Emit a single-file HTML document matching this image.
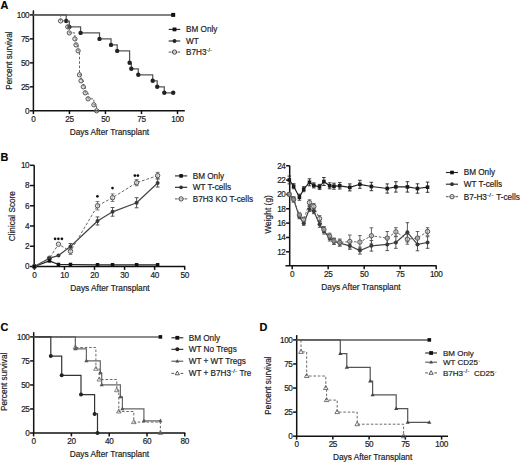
<!DOCTYPE html>
<html><head><meta charset="utf-8"><style>
html,body{margin:0;padding:0;background:#fff;}
body{width:520px;height:463px;overflow:hidden;}
svg{display:block;}
text{font-family:"Liberation Sans", sans-serif;}
</style></head><body>
<svg width="520" height="463" viewBox="0 0 520 463" style='font-family:"Liberation Sans", sans-serif'>
<rect width="520" height="463" fill="#fff"/>
<text x="0.60" y="9.40" font-size="10.9" text-anchor="start" font-weight="bold" fill="#000" stroke="#1a1a1a" stroke-width="0.18">A</text>
<line x1="33.40" y1="10.40" x2="33.40" y2="110.80" stroke="#111" stroke-width="1.5" stroke-linecap="butt"/>
<line x1="29.80" y1="14.90" x2="33.40" y2="14.90" stroke="#111" stroke-width="1.5" stroke-linecap="butt"/>
<text x="29.10" y="17.80" font-size="8.2" text-anchor="end" font-weight="normal" fill="#1a1a1a" letter-spacing="-0.45" stroke="#1a1a1a" stroke-width="0.18">100</text>
<line x1="29.80" y1="38.88" x2="33.40" y2="38.88" stroke="#111" stroke-width="1.5" stroke-linecap="butt"/>
<text x="29.10" y="41.77" font-size="8.2" text-anchor="end" font-weight="normal" fill="#1a1a1a" letter-spacing="-0.45" stroke="#1a1a1a" stroke-width="0.18">75</text>
<line x1="29.80" y1="62.85" x2="33.40" y2="62.85" stroke="#111" stroke-width="1.5" stroke-linecap="butt"/>
<text x="29.10" y="65.75" font-size="8.2" text-anchor="end" font-weight="normal" fill="#1a1a1a" letter-spacing="-0.45" stroke="#1a1a1a" stroke-width="0.18">50</text>
<line x1="29.80" y1="86.83" x2="33.40" y2="86.83" stroke="#111" stroke-width="1.5" stroke-linecap="butt"/>
<text x="29.10" y="89.73" font-size="8.2" text-anchor="end" font-weight="normal" fill="#1a1a1a" letter-spacing="-0.45" stroke="#1a1a1a" stroke-width="0.18">25</text>
<line x1="29.80" y1="110.80" x2="33.40" y2="110.80" stroke="#111" stroke-width="1.5" stroke-linecap="butt"/>
<text x="29.10" y="113.70" font-size="8.2" text-anchor="end" font-weight="normal" fill="#1a1a1a" letter-spacing="-0.45" stroke="#1a1a1a" stroke-width="0.18">0</text>
<line x1="33.40" y1="110.70" x2="184.80" y2="110.70" stroke="#111" stroke-width="1.5" stroke-linecap="butt"/>
<line x1="33.40" y1="110.70" x2="33.40" y2="114.10" stroke="#111" stroke-width="1.5" stroke-linecap="butt"/>
<text x="33.40" y="121.70" font-size="8.2" text-anchor="middle" font-weight="normal" fill="#1a1a1a" letter-spacing="-0.35" stroke="#1a1a1a" stroke-width="0.18">0</text>
<line x1="69.42" y1="110.70" x2="69.42" y2="114.10" stroke="#111" stroke-width="1.5" stroke-linecap="butt"/>
<text x="69.42" y="121.70" font-size="8.2" text-anchor="middle" font-weight="normal" fill="#1a1a1a" letter-spacing="-0.35" stroke="#1a1a1a" stroke-width="0.18">25</text>
<line x1="105.45" y1="110.70" x2="105.45" y2="114.10" stroke="#111" stroke-width="1.5" stroke-linecap="butt"/>
<text x="105.45" y="121.70" font-size="8.2" text-anchor="middle" font-weight="normal" fill="#1a1a1a" letter-spacing="-0.35" stroke="#1a1a1a" stroke-width="0.18">50</text>
<line x1="141.47" y1="110.70" x2="141.47" y2="114.10" stroke="#111" stroke-width="1.5" stroke-linecap="butt"/>
<text x="141.47" y="121.70" font-size="8.2" text-anchor="middle" font-weight="normal" fill="#1a1a1a" letter-spacing="-0.35" stroke="#1a1a1a" stroke-width="0.18">75</text>
<line x1="177.50" y1="110.70" x2="177.50" y2="114.10" stroke="#111" stroke-width="1.5" stroke-linecap="butt"/>
<text x="177.50" y="121.70" font-size="8.2" text-anchor="middle" font-weight="normal" fill="#1a1a1a" letter-spacing="-0.35" stroke="#1a1a1a" stroke-width="0.18">100</text>
<text x="11.90" y="60.60" font-size="8.2" text-anchor="middle" font-weight="normal" fill="#1a1a1a" transform="rotate(-90 11.90 60.60)" stroke="#1a1a1a" stroke-width="0.18">Percent survival</text>
<text x="109.40" y="134.80" font-size="8.3" text-anchor="middle" font-weight="normal" fill="#1a1a1a" stroke="#1a1a1a" stroke-width="0.18">Days After Transplant</text>
<line x1="33.40" y1="15.00" x2="173.20" y2="15.00" stroke="#5a5a5a" stroke-width="1.4" stroke-linecap="butt"/>
<path d="M33.40,14.90 L66.20,14.90 L66.20,21.00 L69.30,21.00 L69.30,26.90 L80.60,26.90 L80.60,32.90 L99.50,32.90 L99.50,38.90 L111.00,38.90 L111.00,44.90 L117.20,44.90 L117.20,50.90 L129.60,50.90 L129.60,62.80 L131.30,62.80 L131.30,68.80 L138.30,68.80 L138.30,74.80 L152.70,74.80 L152.70,80.80 L157.20,80.80 L157.20,86.80 L164.30,86.80 L164.30,92.80 L173.20,92.80" fill="none" stroke="#555" stroke-width="1.25"/>
<circle cx="66.20" cy="21.00" r="2.2" fill="#222"/>
<circle cx="69.30" cy="26.90" r="2.2" fill="#222"/>
<circle cx="80.60" cy="32.90" r="2.2" fill="#222"/>
<circle cx="99.50" cy="38.90" r="2.2" fill="#222"/>
<circle cx="111.00" cy="44.90" r="2.2" fill="#222"/>
<circle cx="117.20" cy="50.90" r="2.2" fill="#222"/>
<circle cx="129.60" cy="62.80" r="2.2" fill="#222"/>
<circle cx="131.30" cy="68.80" r="2.2" fill="#222"/>
<circle cx="138.30" cy="74.80" r="2.2" fill="#222"/>
<circle cx="152.70" cy="80.80" r="2.2" fill="#222"/>
<circle cx="157.20" cy="86.80" r="2.2" fill="#222"/>
<circle cx="164.30" cy="92.80" r="2.2" fill="#222"/>
<circle cx="173.20" cy="92.80" r="2.2" fill="#222"/>
<path d="M33.40,14.90 L60.60,14.90 L60.60,20.90 L67.80,20.90 L67.80,26.90 L69.30,26.90 L69.30,32.90 L74.90,32.90 L74.90,38.90 L76.00,38.90 L76.00,44.90 L78.10,44.90 L78.10,50.80 L79.50,50.80 L79.50,74.80 L81.00,74.80 L81.00,80.80 L83.30,80.80 L83.30,86.80 L85.20,86.80 L85.20,92.80 L88.10,92.80 L88.10,98.80 L93.90,98.80 L93.90,104.80 L96.60,104.80 L96.60,110.80" fill="none" stroke="#666" stroke-width="1.0" stroke-dasharray="2.6,1.8"/>
<circle cx="60.60" cy="20.90" r="2.15" fill="rgba(160,160,160,0.3)" stroke="#555" stroke-width="1.0"/>
<circle cx="67.80" cy="26.90" r="2.15" fill="rgba(160,160,160,0.3)" stroke="#555" stroke-width="1.0"/>
<circle cx="69.30" cy="32.90" r="2.15" fill="rgba(160,160,160,0.3)" stroke="#555" stroke-width="1.0"/>
<circle cx="74.90" cy="38.90" r="2.15" fill="rgba(160,160,160,0.3)" stroke="#555" stroke-width="1.0"/>
<circle cx="76.00" cy="44.90" r="2.15" fill="rgba(160,160,160,0.3)" stroke="#555" stroke-width="1.0"/>
<circle cx="78.10" cy="50.80" r="2.15" fill="rgba(160,160,160,0.3)" stroke="#555" stroke-width="1.0"/>
<circle cx="79.50" cy="74.80" r="2.15" fill="rgba(160,160,160,0.3)" stroke="#555" stroke-width="1.0"/>
<circle cx="81.00" cy="80.80" r="2.15" fill="rgba(160,160,160,0.3)" stroke="#555" stroke-width="1.0"/>
<circle cx="83.30" cy="86.80" r="2.15" fill="rgba(160,160,160,0.3)" stroke="#555" stroke-width="1.0"/>
<circle cx="85.20" cy="92.80" r="2.15" fill="rgba(160,160,160,0.3)" stroke="#555" stroke-width="1.0"/>
<circle cx="88.10" cy="98.80" r="2.15" fill="rgba(160,160,160,0.3)" stroke="#555" stroke-width="1.0"/>
<circle cx="93.90" cy="104.80" r="2.15" fill="rgba(160,160,160,0.3)" stroke="#555" stroke-width="1.0"/>
<circle cx="96.60" cy="110.80" r="2.15" fill="rgba(160,160,160,0.3)" stroke="#555" stroke-width="1.0"/>
<rect x="171.20" y="12.90" width="4" height="4" fill="#111"/>
<line x1="168.70" y1="29.40" x2="180.20" y2="29.40" stroke="#222" stroke-width="1.1" stroke-linecap="butt"/>
<rect x="172.60" y="27.50" width="3.8" height="3.8" fill="#111"/>
<text x="186.00" y="32.40" font-size="8.2" text-anchor="start" font-weight="normal" fill="#1a1a1a" stroke="#1a1a1a" stroke-width="0.18">BM Only</text>
<line x1="168.70" y1="41.00" x2="180.20" y2="41.00" stroke="#222" stroke-width="1.1" stroke-linecap="butt"/>
<circle cx="174.50" cy="41.00" r="2.0" fill="#222"/>
<text x="186.00" y="44.00" font-size="8.2" text-anchor="start" font-weight="normal" fill="#1a1a1a" stroke="#1a1a1a" stroke-width="0.18">WT</text>
<line x1="168.70" y1="52.10" x2="171.40" y2="52.10" stroke="#555" stroke-width="1.0" stroke-linecap="butt"/>
<line x1="177.50" y1="52.10" x2="180.20" y2="52.10" stroke="#555" stroke-width="1.0" stroke-linecap="butt"/>
<line x1="172.00" y1="52.10" x2="177.00" y2="52.10" stroke="#777" stroke-width="0.8" stroke-linecap="butt"/>
<circle cx="174.50" cy="52.10" r="2.15" fill="none" stroke="#444" stroke-width="1.0"/>
<text x="186.00" y="55.10" font-size="8.2" text-anchor="start" font-weight="normal" fill="#1a1a1a" stroke="#1a1a1a" stroke-width="0.18">B7H3<tspan font-size="5.2" dy="-3" letter-spacing="0.35">-/-</tspan></text>
<text x="0.60" y="161.30" font-size="10.9" text-anchor="start" font-weight="bold" fill="#000" stroke="#1a1a1a" stroke-width="0.18">B</text>
<line x1="34.20" y1="165.30" x2="34.20" y2="266.50" stroke="#111" stroke-width="1.5" stroke-linecap="butt"/>
<line x1="29.90" y1="165.30" x2="34.20" y2="165.30" stroke="#111" stroke-width="1.5" stroke-linecap="butt"/>
<text x="29.20" y="168.20" font-size="8.2" text-anchor="end" font-weight="normal" fill="#1a1a1a" letter-spacing="-0.45" stroke="#1a1a1a" stroke-width="0.18">10</text>
<line x1="29.90" y1="185.54" x2="34.20" y2="185.54" stroke="#111" stroke-width="1.5" stroke-linecap="butt"/>
<text x="29.20" y="188.44" font-size="8.2" text-anchor="end" font-weight="normal" fill="#1a1a1a" letter-spacing="-0.45" stroke="#1a1a1a" stroke-width="0.18">8</text>
<line x1="29.90" y1="205.78" x2="34.20" y2="205.78" stroke="#111" stroke-width="1.5" stroke-linecap="butt"/>
<text x="29.20" y="208.68" font-size="8.2" text-anchor="end" font-weight="normal" fill="#1a1a1a" letter-spacing="-0.45" stroke="#1a1a1a" stroke-width="0.18">6</text>
<line x1="29.90" y1="226.02" x2="34.20" y2="226.02" stroke="#111" stroke-width="1.5" stroke-linecap="butt"/>
<text x="29.20" y="228.92" font-size="8.2" text-anchor="end" font-weight="normal" fill="#1a1a1a" letter-spacing="-0.45" stroke="#1a1a1a" stroke-width="0.18">4</text>
<line x1="29.90" y1="246.26" x2="34.20" y2="246.26" stroke="#111" stroke-width="1.5" stroke-linecap="butt"/>
<text x="29.20" y="249.16" font-size="8.2" text-anchor="end" font-weight="normal" fill="#1a1a1a" letter-spacing="-0.45" stroke="#1a1a1a" stroke-width="0.18">2</text>
<line x1="29.90" y1="266.50" x2="34.20" y2="266.50" stroke="#111" stroke-width="1.5" stroke-linecap="butt"/>
<text x="29.20" y="269.40" font-size="8.2" text-anchor="end" font-weight="normal" fill="#1a1a1a" letter-spacing="-0.45" stroke="#1a1a1a" stroke-width="0.18">0</text>
<line x1="34.20" y1="266.50" x2="185.20" y2="266.50" stroke="#111" stroke-width="1.5" stroke-linecap="butt"/>
<line x1="34.40" y1="266.50" x2="34.40" y2="269.90" stroke="#111" stroke-width="1.5" stroke-linecap="butt"/>
<text x="34.40" y="277.50" font-size="8.2" text-anchor="middle" font-weight="normal" fill="#1a1a1a" letter-spacing="-0.35" stroke="#1a1a1a" stroke-width="0.18">0</text>
<line x1="64.46" y1="266.50" x2="64.46" y2="269.90" stroke="#111" stroke-width="1.5" stroke-linecap="butt"/>
<text x="64.46" y="277.50" font-size="8.2" text-anchor="middle" font-weight="normal" fill="#1a1a1a" letter-spacing="-0.35" stroke="#1a1a1a" stroke-width="0.18">10</text>
<line x1="94.52" y1="266.50" x2="94.52" y2="269.90" stroke="#111" stroke-width="1.5" stroke-linecap="butt"/>
<text x="94.52" y="277.50" font-size="8.2" text-anchor="middle" font-weight="normal" fill="#1a1a1a" letter-spacing="-0.35" stroke="#1a1a1a" stroke-width="0.18">20</text>
<line x1="124.58" y1="266.50" x2="124.58" y2="269.90" stroke="#111" stroke-width="1.5" stroke-linecap="butt"/>
<text x="124.58" y="277.50" font-size="8.2" text-anchor="middle" font-weight="normal" fill="#1a1a1a" letter-spacing="-0.35" stroke="#1a1a1a" stroke-width="0.18">30</text>
<line x1="154.64" y1="266.50" x2="154.64" y2="269.90" stroke="#111" stroke-width="1.5" stroke-linecap="butt"/>
<text x="154.64" y="277.50" font-size="8.2" text-anchor="middle" font-weight="normal" fill="#1a1a1a" letter-spacing="-0.35" stroke="#1a1a1a" stroke-width="0.18">40</text>
<line x1="184.70" y1="266.50" x2="184.70" y2="269.90" stroke="#111" stroke-width="1.5" stroke-linecap="butt"/>
<text x="184.70" y="277.50" font-size="8.2" text-anchor="middle" font-weight="normal" fill="#1a1a1a" letter-spacing="-0.35" stroke="#1a1a1a" stroke-width="0.18">50</text>
<text x="14.60" y="216.20" font-size="8.2" text-anchor="middle" font-weight="normal" fill="#1a1a1a" transform="rotate(-90 14.60 216.20)" stroke="#1a1a1a" stroke-width="0.18">Clinical Score</text>
<text x="110.00" y="290.60" font-size="8.3" text-anchor="middle" font-weight="normal" fill="#1a1a1a" stroke="#1a1a1a" stroke-width="0.18">Days After Transplant</text>
<path d="M34.40,266.50 L49.43,260.93 L58.45,264.48 L70.47,264.48 L97.53,264.78 L112.56,264.78 L136.60,264.78 L157.65,264.78" fill="none" stroke="#222" stroke-width="1.2" stroke-linejoin="round"/>
<path d="M34.40,266.50 L49.43,258.20 L58.45,255.57 L70.47,246.56 L97.53,220.96 L112.56,211.85 L136.60,202.74 L157.65,183.01" fill="none" stroke="#444" stroke-width="1.2" stroke-linejoin="round"/>
<path d="M34.40,266.50 L49.43,258.20 L58.45,244.24 L70.47,251.32 L97.53,205.78 L112.56,197.68 L136.60,182.71 L157.65,175.62" fill="none" stroke="#666" stroke-width="1.0" stroke-linejoin="round" stroke-dasharray="2.8,1.8"/>
<line x1="70.47" y1="243.53" x2="70.47" y2="249.60" stroke="#444" stroke-width="0.9" stroke-linecap="butt"/>
<line x1="68.57" y1="243.53" x2="72.37" y2="243.53" stroke="#444" stroke-width="0.9" stroke-linecap="butt"/>
<line x1="68.57" y1="249.60" x2="72.37" y2="249.60" stroke="#444" stroke-width="0.9" stroke-linecap="butt"/>
<line x1="97.53" y1="216.91" x2="97.53" y2="225.01" stroke="#444" stroke-width="0.9" stroke-linecap="butt"/>
<line x1="95.63" y1="216.91" x2="99.43" y2="216.91" stroke="#444" stroke-width="0.9" stroke-linecap="butt"/>
<line x1="95.63" y1="225.01" x2="99.43" y2="225.01" stroke="#444" stroke-width="0.9" stroke-linecap="butt"/>
<line x1="112.56" y1="207.50" x2="112.56" y2="216.20" stroke="#444" stroke-width="0.9" stroke-linecap="butt"/>
<line x1="110.66" y1="207.50" x2="114.46" y2="207.50" stroke="#444" stroke-width="0.9" stroke-linecap="butt"/>
<line x1="110.66" y1="216.20" x2="114.46" y2="216.20" stroke="#444" stroke-width="0.9" stroke-linecap="butt"/>
<line x1="136.60" y1="197.68" x2="136.60" y2="207.80" stroke="#444" stroke-width="0.9" stroke-linecap="butt"/>
<line x1="134.70" y1="197.68" x2="138.50" y2="197.68" stroke="#444" stroke-width="0.9" stroke-linecap="butt"/>
<line x1="134.70" y1="207.80" x2="138.50" y2="207.80" stroke="#444" stroke-width="0.9" stroke-linecap="butt"/>
<line x1="157.65" y1="178.96" x2="157.65" y2="187.06" stroke="#444" stroke-width="0.9" stroke-linecap="butt"/>
<line x1="155.75" y1="178.96" x2="159.55" y2="178.96" stroke="#444" stroke-width="0.9" stroke-linecap="butt"/>
<line x1="155.75" y1="187.06" x2="159.55" y2="187.06" stroke="#444" stroke-width="0.9" stroke-linecap="butt"/>
<line x1="70.47" y1="248.28" x2="70.47" y2="254.36" stroke="#666" stroke-width="0.9" stroke-linecap="butt"/>
<line x1="68.57" y1="248.28" x2="72.37" y2="248.28" stroke="#666" stroke-width="0.9" stroke-linecap="butt"/>
<line x1="68.57" y1="254.36" x2="72.37" y2="254.36" stroke="#666" stroke-width="0.9" stroke-linecap="butt"/>
<line x1="97.53" y1="201.63" x2="97.53" y2="209.93" stroke="#666" stroke-width="0.9" stroke-linecap="butt"/>
<line x1="95.63" y1="201.63" x2="99.43" y2="201.63" stroke="#666" stroke-width="0.9" stroke-linecap="butt"/>
<line x1="95.63" y1="209.93" x2="99.43" y2="209.93" stroke="#666" stroke-width="0.9" stroke-linecap="butt"/>
<line x1="112.56" y1="193.94" x2="112.56" y2="201.43" stroke="#666" stroke-width="0.9" stroke-linecap="butt"/>
<line x1="110.66" y1="193.94" x2="114.46" y2="193.94" stroke="#666" stroke-width="0.9" stroke-linecap="butt"/>
<line x1="110.66" y1="201.43" x2="114.46" y2="201.43" stroke="#666" stroke-width="0.9" stroke-linecap="butt"/>
<line x1="136.60" y1="179.67" x2="136.60" y2="185.74" stroke="#666" stroke-width="0.9" stroke-linecap="butt"/>
<line x1="134.70" y1="179.67" x2="138.50" y2="179.67" stroke="#666" stroke-width="0.9" stroke-linecap="butt"/>
<line x1="134.70" y1="185.74" x2="138.50" y2="185.74" stroke="#666" stroke-width="0.9" stroke-linecap="butt"/>
<line x1="157.65" y1="172.38" x2="157.65" y2="178.86" stroke="#666" stroke-width="0.9" stroke-linecap="butt"/>
<line x1="155.75" y1="172.38" x2="159.55" y2="172.38" stroke="#666" stroke-width="0.9" stroke-linecap="butt"/>
<line x1="155.75" y1="178.86" x2="159.55" y2="178.86" stroke="#666" stroke-width="0.9" stroke-linecap="butt"/>
<circle cx="34.40" cy="266.50" r="2.2" fill="rgba(220,220,220,0.7)" stroke="#555" stroke-width="1.0"/>
<circle cx="49.43" cy="258.20" r="2.2" fill="rgba(220,220,220,0.7)" stroke="#555" stroke-width="1.0"/>
<circle cx="58.45" cy="244.24" r="2.2" fill="rgba(220,220,220,0.7)" stroke="#555" stroke-width="1.0"/>
<circle cx="70.47" cy="251.32" r="2.2" fill="rgba(220,220,220,0.7)" stroke="#555" stroke-width="1.0"/>
<circle cx="97.53" cy="205.78" r="2.2" fill="rgba(220,220,220,0.7)" stroke="#555" stroke-width="1.0"/>
<circle cx="112.56" cy="197.68" r="2.2" fill="rgba(220,220,220,0.7)" stroke="#555" stroke-width="1.0"/>
<circle cx="136.60" cy="182.71" r="2.2" fill="rgba(220,220,220,0.7)" stroke="#555" stroke-width="1.0"/>
<circle cx="157.65" cy="175.62" r="2.2" fill="rgba(220,220,220,0.7)" stroke="#555" stroke-width="1.0"/>
<circle cx="34.40" cy="266.50" r="2.0" fill="#3a3a3a"/>
<circle cx="49.43" cy="258.20" r="2.0" fill="#3a3a3a"/>
<circle cx="58.45" cy="255.57" r="2.0" fill="#3a3a3a"/>
<circle cx="70.47" cy="246.56" r="2.0" fill="#3a3a3a"/>
<circle cx="97.53" cy="220.96" r="2.0" fill="#3a3a3a"/>
<circle cx="112.56" cy="211.85" r="2.0" fill="#3a3a3a"/>
<circle cx="136.60" cy="202.74" r="2.0" fill="#3a3a3a"/>
<circle cx="157.65" cy="183.01" r="2.0" fill="#3a3a3a"/>
<rect x="32.65" y="264.75" width="3.5" height="3.5" fill="#111"/>
<rect x="47.68" y="259.18" width="3.5" height="3.5" fill="#111"/>
<rect x="56.70" y="262.73" width="3.5" height="3.5" fill="#111"/>
<rect x="68.72" y="262.73" width="3.5" height="3.5" fill="#111"/>
<rect x="95.78" y="263.03" width="3.5" height="3.5" fill="#111"/>
<rect x="110.81" y="263.03" width="3.5" height="3.5" fill="#111"/>
<rect x="134.85" y="263.03" width="3.5" height="3.5" fill="#111"/>
<rect x="155.90" y="263.03" width="3.5" height="3.5" fill="#111"/>
<circle cx="55.10" cy="238.80" r="1.35" fill="#111"/>
<circle cx="58.40" cy="238.80" r="1.35" fill="#111"/>
<circle cx="61.90" cy="238.80" r="1.35" fill="#111"/>
<circle cx="97.40" cy="196.30" r="1.35" fill="#111"/>
<circle cx="112.50" cy="188.10" r="1.35" fill="#111"/>
<circle cx="134.90" cy="175.60" r="1.35" fill="#111"/>
<circle cx="137.90" cy="175.60" r="1.35" fill="#111"/>
<line x1="175.00" y1="175.90" x2="187.20" y2="175.90" stroke="#222" stroke-width="1.1" stroke-linecap="butt"/>
<rect x="179.30" y="174.10" width="3.6" height="3.6" fill="#111"/>
<text x="192.70" y="178.80" font-size="8.2" text-anchor="start" font-weight="normal" fill="#1a1a1a" stroke="#1a1a1a" stroke-width="0.18">BM Only</text>
<line x1="175.00" y1="187.30" x2="187.20" y2="187.30" stroke="#222" stroke-width="1.1" stroke-linecap="butt"/>
<circle cx="181.10" cy="187.30" r="1.9" fill="#333"/>
<text x="192.70" y="190.20" font-size="8.2" text-anchor="start" font-weight="normal" fill="#1a1a1a" stroke="#1a1a1a" stroke-width="0.18">WT T-cells</text>
<line x1="175.00" y1="198.90" x2="177.70" y2="198.90" stroke="#555" stroke-width="1.0" stroke-linecap="butt"/>
<line x1="184.50" y1="198.90" x2="187.20" y2="198.90" stroke="#555" stroke-width="1.0" stroke-linecap="butt"/>
<line x1="178.60" y1="198.90" x2="183.60" y2="198.90" stroke="#777" stroke-width="0.8" stroke-linecap="butt"/>
<circle cx="181.10" cy="198.90" r="2.15" fill="none" stroke="#444" stroke-width="1.0"/>
<text x="192.70" y="201.80" font-size="8.2" text-anchor="start" font-weight="normal" fill="#1a1a1a" stroke="#1a1a1a" stroke-width="0.18">B7H3 KO T-cells</text>
<line x1="289.70" y1="165.60" x2="289.70" y2="265.80" stroke="#111" stroke-width="1.5" stroke-linecap="butt"/>
<line x1="286.10" y1="165.76" x2="289.70" y2="165.76" stroke="#111" stroke-width="1.5" stroke-linecap="butt"/>
<text x="285.40" y="168.66" font-size="8.2" text-anchor="end" font-weight="normal" fill="#1a1a1a" letter-spacing="-0.45" stroke="#1a1a1a" stroke-width="0.18">24</text>
<line x1="286.10" y1="180.10" x2="289.70" y2="180.10" stroke="#111" stroke-width="1.5" stroke-linecap="butt"/>
<text x="285.40" y="183.00" font-size="8.2" text-anchor="end" font-weight="normal" fill="#1a1a1a" letter-spacing="-0.45" stroke="#1a1a1a" stroke-width="0.18">22</text>
<line x1="286.10" y1="194.44" x2="289.70" y2="194.44" stroke="#111" stroke-width="1.5" stroke-linecap="butt"/>
<text x="285.40" y="197.34" font-size="8.2" text-anchor="end" font-weight="normal" fill="#1a1a1a" letter-spacing="-0.45" stroke="#1a1a1a" stroke-width="0.18">20</text>
<line x1="286.10" y1="208.78" x2="289.70" y2="208.78" stroke="#111" stroke-width="1.5" stroke-linecap="butt"/>
<text x="285.40" y="211.68" font-size="8.2" text-anchor="end" font-weight="normal" fill="#1a1a1a" letter-spacing="-0.45" stroke="#1a1a1a" stroke-width="0.18">18</text>
<line x1="286.10" y1="223.12" x2="289.70" y2="223.12" stroke="#111" stroke-width="1.5" stroke-linecap="butt"/>
<text x="285.40" y="226.02" font-size="8.2" text-anchor="end" font-weight="normal" fill="#1a1a1a" letter-spacing="-0.45" stroke="#1a1a1a" stroke-width="0.18">16</text>
<line x1="286.10" y1="237.46" x2="289.70" y2="237.46" stroke="#111" stroke-width="1.5" stroke-linecap="butt"/>
<text x="285.40" y="240.36" font-size="8.2" text-anchor="end" font-weight="normal" fill="#1a1a1a" letter-spacing="-0.45" stroke="#1a1a1a" stroke-width="0.18">14</text>
<line x1="286.10" y1="251.80" x2="289.70" y2="251.80" stroke="#111" stroke-width="1.5" stroke-linecap="butt"/>
<text x="285.40" y="254.70" font-size="8.2" text-anchor="end" font-weight="normal" fill="#1a1a1a" letter-spacing="-0.45" stroke="#1a1a1a" stroke-width="0.18">12</text>
<line x1="285.50" y1="265.80" x2="436.60" y2="265.80" stroke="#111" stroke-width="1.5" stroke-linecap="butt"/>
<line x1="292.20" y1="265.80" x2="292.20" y2="269.20" stroke="#111" stroke-width="1.5" stroke-linecap="butt"/>
<text x="292.20" y="276.80" font-size="8.2" text-anchor="middle" font-weight="normal" fill="#1a1a1a" letter-spacing="-0.35" stroke="#1a1a1a" stroke-width="0.18">0</text>
<line x1="328.20" y1="265.80" x2="328.20" y2="269.20" stroke="#111" stroke-width="1.5" stroke-linecap="butt"/>
<text x="328.20" y="276.80" font-size="8.2" text-anchor="middle" font-weight="normal" fill="#1a1a1a" letter-spacing="-0.35" stroke="#1a1a1a" stroke-width="0.18">25</text>
<line x1="364.20" y1="265.80" x2="364.20" y2="269.20" stroke="#111" stroke-width="1.5" stroke-linecap="butt"/>
<text x="364.20" y="276.80" font-size="8.2" text-anchor="middle" font-weight="normal" fill="#1a1a1a" letter-spacing="-0.35" stroke="#1a1a1a" stroke-width="0.18">50</text>
<line x1="400.20" y1="265.80" x2="400.20" y2="269.20" stroke="#111" stroke-width="1.5" stroke-linecap="butt"/>
<text x="400.20" y="276.80" font-size="8.2" text-anchor="middle" font-weight="normal" fill="#1a1a1a" letter-spacing="-0.35" stroke="#1a1a1a" stroke-width="0.18">75</text>
<line x1="436.20" y1="265.80" x2="436.20" y2="269.20" stroke="#111" stroke-width="1.5" stroke-linecap="butt"/>
<text x="436.20" y="276.80" font-size="8.2" text-anchor="middle" font-weight="normal" fill="#1a1a1a" letter-spacing="-0.35" stroke="#1a1a1a" stroke-width="0.18">100</text>
<text x="271.30" y="214.40" font-size="8.4" text-anchor="middle" font-weight="normal" fill="#1a1a1a" transform="rotate(-90 271.30 214.40)" stroke="#1a1a1a" stroke-width="0.18">Weight (g)</text>
<text x="361.00" y="290.10" font-size="8.3" text-anchor="middle" font-weight="normal" fill="#1a1a1a" stroke="#1a1a1a" stroke-width="0.18">Days After Transplant</text>
<path d="M289.32,194.30 L293.64,199.60 L299.40,216.70 L303.72,223.30 L309.48,209.00 L313.80,211.20 L319.56,224.30 L323.88,231.00 L329.64,238.00 L333.96,241.50 L339.72,243.10 L349.80,245.80 L359.88,250.60 L371.40,245.80 L387.24,244.40 L395.88,242.50 L407.40,232.30 L417.48,244.40 L427.56,242.50" fill="none" stroke="#444" stroke-width="1.2" stroke-linejoin="round"/>
<path d="M289.32,194.30 L293.64,199.30 L299.40,215.00 L303.72,219.70 L309.48,202.60 L313.80,206.40 L319.56,218.60 L323.88,229.50 L329.64,236.20 L333.96,241.00 L339.72,242.50 L349.80,241.50 L359.88,242.10 L371.40,235.80 L387.24,238.10 L395.88,231.90 L407.40,239.20 L417.48,238.10 L427.56,231.50" fill="none" stroke="#666" stroke-width="1.0" stroke-linejoin="round" stroke-dasharray="2.6,1.8"/>
<path d="M289.32,180.00 L293.64,186.20 L299.40,197.20 L303.72,189.20 L309.48,182.30 L313.80,185.40 L319.56,186.90 L323.88,181.50 L329.64,185.80 L333.96,186.20 L339.72,185.80 L349.80,187.40 L359.88,184.30 L371.40,186.50 L387.24,188.50 L395.88,186.90 L407.40,186.90 L417.48,188.50 L427.56,187.20" fill="none" stroke="#222" stroke-width="1.2" stroke-linejoin="round"/>
<line x1="289.32" y1="176.10" x2="289.32" y2="183.90" stroke="#222" stroke-width="0.9" stroke-linecap="butt"/>
<line x1="287.52" y1="176.10" x2="291.12" y2="176.10" stroke="#222" stroke-width="0.9" stroke-linecap="butt"/>
<line x1="287.52" y1="183.90" x2="291.12" y2="183.90" stroke="#222" stroke-width="0.9" stroke-linecap="butt"/>
<line x1="293.64" y1="183.70" x2="293.64" y2="188.70" stroke="#222" stroke-width="0.9" stroke-linecap="butt"/>
<line x1="291.84" y1="183.70" x2="295.44" y2="183.70" stroke="#222" stroke-width="0.9" stroke-linecap="butt"/>
<line x1="291.84" y1="188.70" x2="295.44" y2="188.70" stroke="#222" stroke-width="0.9" stroke-linecap="butt"/>
<line x1="299.40" y1="194.20" x2="299.40" y2="200.20" stroke="#222" stroke-width="0.9" stroke-linecap="butt"/>
<line x1="297.60" y1="194.20" x2="301.20" y2="194.20" stroke="#222" stroke-width="0.9" stroke-linecap="butt"/>
<line x1="297.60" y1="200.20" x2="301.20" y2="200.20" stroke="#222" stroke-width="0.9" stroke-linecap="butt"/>
<line x1="303.72" y1="186.70" x2="303.72" y2="191.70" stroke="#222" stroke-width="0.9" stroke-linecap="butt"/>
<line x1="301.92" y1="186.70" x2="305.52" y2="186.70" stroke="#222" stroke-width="0.9" stroke-linecap="butt"/>
<line x1="301.92" y1="191.70" x2="305.52" y2="191.70" stroke="#222" stroke-width="0.9" stroke-linecap="butt"/>
<line x1="309.48" y1="178.80" x2="309.48" y2="185.80" stroke="#222" stroke-width="0.9" stroke-linecap="butt"/>
<line x1="307.68" y1="178.80" x2="311.28" y2="178.80" stroke="#222" stroke-width="0.9" stroke-linecap="butt"/>
<line x1="307.68" y1="185.80" x2="311.28" y2="185.80" stroke="#222" stroke-width="0.9" stroke-linecap="butt"/>
<line x1="313.80" y1="182.90" x2="313.80" y2="187.90" stroke="#222" stroke-width="0.9" stroke-linecap="butt"/>
<line x1="312.00" y1="182.90" x2="315.60" y2="182.90" stroke="#222" stroke-width="0.9" stroke-linecap="butt"/>
<line x1="312.00" y1="187.90" x2="315.60" y2="187.90" stroke="#222" stroke-width="0.9" stroke-linecap="butt"/>
<line x1="319.56" y1="184.40" x2="319.56" y2="189.40" stroke="#222" stroke-width="0.9" stroke-linecap="butt"/>
<line x1="317.76" y1="184.40" x2="321.36" y2="184.40" stroke="#222" stroke-width="0.9" stroke-linecap="butt"/>
<line x1="317.76" y1="189.40" x2="321.36" y2="189.40" stroke="#222" stroke-width="0.9" stroke-linecap="butt"/>
<line x1="323.88" y1="177.50" x2="323.88" y2="185.50" stroke="#222" stroke-width="0.9" stroke-linecap="butt"/>
<line x1="322.08" y1="177.50" x2="325.68" y2="177.50" stroke="#222" stroke-width="0.9" stroke-linecap="butt"/>
<line x1="322.08" y1="185.50" x2="325.68" y2="185.50" stroke="#222" stroke-width="0.9" stroke-linecap="butt"/>
<line x1="329.64" y1="182.80" x2="329.64" y2="188.80" stroke="#222" stroke-width="0.9" stroke-linecap="butt"/>
<line x1="327.84" y1="182.80" x2="331.44" y2="182.80" stroke="#222" stroke-width="0.9" stroke-linecap="butt"/>
<line x1="327.84" y1="188.80" x2="331.44" y2="188.80" stroke="#222" stroke-width="0.9" stroke-linecap="butt"/>
<line x1="333.96" y1="183.20" x2="333.96" y2="189.20" stroke="#222" stroke-width="0.9" stroke-linecap="butt"/>
<line x1="332.16" y1="183.20" x2="335.76" y2="183.20" stroke="#222" stroke-width="0.9" stroke-linecap="butt"/>
<line x1="332.16" y1="189.20" x2="335.76" y2="189.20" stroke="#222" stroke-width="0.9" stroke-linecap="butt"/>
<line x1="339.72" y1="182.60" x2="339.72" y2="189.00" stroke="#222" stroke-width="0.9" stroke-linecap="butt"/>
<line x1="337.92" y1="182.60" x2="341.52" y2="182.60" stroke="#222" stroke-width="0.9" stroke-linecap="butt"/>
<line x1="337.92" y1="189.00" x2="341.52" y2="189.00" stroke="#222" stroke-width="0.9" stroke-linecap="butt"/>
<line x1="349.80" y1="183.90" x2="349.80" y2="190.90" stroke="#222" stroke-width="0.9" stroke-linecap="butt"/>
<line x1="348.00" y1="183.90" x2="351.60" y2="183.90" stroke="#222" stroke-width="0.9" stroke-linecap="butt"/>
<line x1="348.00" y1="190.90" x2="351.60" y2="190.90" stroke="#222" stroke-width="0.9" stroke-linecap="butt"/>
<line x1="359.88" y1="180.30" x2="359.88" y2="188.30" stroke="#222" stroke-width="0.9" stroke-linecap="butt"/>
<line x1="358.08" y1="180.30" x2="361.68" y2="180.30" stroke="#222" stroke-width="0.9" stroke-linecap="butt"/>
<line x1="358.08" y1="188.30" x2="361.68" y2="188.30" stroke="#222" stroke-width="0.9" stroke-linecap="butt"/>
<line x1="371.40" y1="182.30" x2="371.40" y2="190.70" stroke="#222" stroke-width="0.9" stroke-linecap="butt"/>
<line x1="369.60" y1="182.30" x2="373.20" y2="182.30" stroke="#222" stroke-width="0.9" stroke-linecap="butt"/>
<line x1="369.60" y1="190.70" x2="373.20" y2="190.70" stroke="#222" stroke-width="0.9" stroke-linecap="butt"/>
<line x1="387.24" y1="183.90" x2="387.24" y2="193.10" stroke="#222" stroke-width="0.9" stroke-linecap="butt"/>
<line x1="385.44" y1="183.90" x2="389.04" y2="183.90" stroke="#222" stroke-width="0.9" stroke-linecap="butt"/>
<line x1="385.44" y1="193.10" x2="389.04" y2="193.10" stroke="#222" stroke-width="0.9" stroke-linecap="butt"/>
<line x1="395.88" y1="181.70" x2="395.88" y2="192.10" stroke="#222" stroke-width="0.9" stroke-linecap="butt"/>
<line x1="394.08" y1="181.70" x2="397.68" y2="181.70" stroke="#222" stroke-width="0.9" stroke-linecap="butt"/>
<line x1="394.08" y1="192.10" x2="397.68" y2="192.10" stroke="#222" stroke-width="0.9" stroke-linecap="butt"/>
<line x1="407.40" y1="181.70" x2="407.40" y2="192.10" stroke="#222" stroke-width="0.9" stroke-linecap="butt"/>
<line x1="405.60" y1="181.70" x2="409.20" y2="181.70" stroke="#222" stroke-width="0.9" stroke-linecap="butt"/>
<line x1="405.60" y1="192.10" x2="409.20" y2="192.10" stroke="#222" stroke-width="0.9" stroke-linecap="butt"/>
<line x1="417.48" y1="183.80" x2="417.48" y2="193.20" stroke="#222" stroke-width="0.9" stroke-linecap="butt"/>
<line x1="415.68" y1="183.80" x2="419.28" y2="183.80" stroke="#222" stroke-width="0.9" stroke-linecap="butt"/>
<line x1="415.68" y1="193.20" x2="419.28" y2="193.20" stroke="#222" stroke-width="0.9" stroke-linecap="butt"/>
<line x1="427.56" y1="182.10" x2="427.56" y2="192.30" stroke="#222" stroke-width="0.9" stroke-linecap="butt"/>
<line x1="425.76" y1="182.10" x2="429.36" y2="182.10" stroke="#222" stroke-width="0.9" stroke-linecap="butt"/>
<line x1="425.76" y1="192.30" x2="429.36" y2="192.30" stroke="#222" stroke-width="0.9" stroke-linecap="butt"/>
<line x1="289.32" y1="192.80" x2="289.32" y2="195.80" stroke="#444" stroke-width="0.9" stroke-linecap="butt"/>
<line x1="287.52" y1="192.80" x2="291.12" y2="192.80" stroke="#444" stroke-width="0.9" stroke-linecap="butt"/>
<line x1="287.52" y1="195.80" x2="291.12" y2="195.80" stroke="#444" stroke-width="0.9" stroke-linecap="butt"/>
<line x1="293.64" y1="197.10" x2="293.64" y2="202.10" stroke="#444" stroke-width="0.9" stroke-linecap="butt"/>
<line x1="291.84" y1="197.10" x2="295.44" y2="197.10" stroke="#444" stroke-width="0.9" stroke-linecap="butt"/>
<line x1="291.84" y1="202.10" x2="295.44" y2="202.10" stroke="#444" stroke-width="0.9" stroke-linecap="butt"/>
<line x1="299.40" y1="214.70" x2="299.40" y2="218.70" stroke="#444" stroke-width="0.9" stroke-linecap="butt"/>
<line x1="297.60" y1="214.70" x2="301.20" y2="214.70" stroke="#444" stroke-width="0.9" stroke-linecap="butt"/>
<line x1="297.60" y1="218.70" x2="301.20" y2="218.70" stroke="#444" stroke-width="0.9" stroke-linecap="butt"/>
<line x1="303.72" y1="221.30" x2="303.72" y2="225.30" stroke="#444" stroke-width="0.9" stroke-linecap="butt"/>
<line x1="301.92" y1="221.30" x2="305.52" y2="221.30" stroke="#444" stroke-width="0.9" stroke-linecap="butt"/>
<line x1="301.92" y1="225.30" x2="305.52" y2="225.30" stroke="#444" stroke-width="0.9" stroke-linecap="butt"/>
<line x1="309.48" y1="206.50" x2="309.48" y2="211.50" stroke="#444" stroke-width="0.9" stroke-linecap="butt"/>
<line x1="307.68" y1="206.50" x2="311.28" y2="206.50" stroke="#444" stroke-width="0.9" stroke-linecap="butt"/>
<line x1="307.68" y1="211.50" x2="311.28" y2="211.50" stroke="#444" stroke-width="0.9" stroke-linecap="butt"/>
<line x1="313.80" y1="208.70" x2="313.80" y2="213.70" stroke="#444" stroke-width="0.9" stroke-linecap="butt"/>
<line x1="312.00" y1="208.70" x2="315.60" y2="208.70" stroke="#444" stroke-width="0.9" stroke-linecap="butt"/>
<line x1="312.00" y1="213.70" x2="315.60" y2="213.70" stroke="#444" stroke-width="0.9" stroke-linecap="butt"/>
<line x1="319.56" y1="221.30" x2="319.56" y2="227.30" stroke="#444" stroke-width="0.9" stroke-linecap="butt"/>
<line x1="317.76" y1="221.30" x2="321.36" y2="221.30" stroke="#444" stroke-width="0.9" stroke-linecap="butt"/>
<line x1="317.76" y1="227.30" x2="321.36" y2="227.30" stroke="#444" stroke-width="0.9" stroke-linecap="butt"/>
<line x1="323.88" y1="228.00" x2="323.88" y2="234.00" stroke="#444" stroke-width="0.9" stroke-linecap="butt"/>
<line x1="322.08" y1="228.00" x2="325.68" y2="228.00" stroke="#444" stroke-width="0.9" stroke-linecap="butt"/>
<line x1="322.08" y1="234.00" x2="325.68" y2="234.00" stroke="#444" stroke-width="0.9" stroke-linecap="butt"/>
<line x1="329.64" y1="235.00" x2="329.64" y2="241.00" stroke="#444" stroke-width="0.9" stroke-linecap="butt"/>
<line x1="327.84" y1="235.00" x2="331.44" y2="235.00" stroke="#444" stroke-width="0.9" stroke-linecap="butt"/>
<line x1="327.84" y1="241.00" x2="331.44" y2="241.00" stroke="#444" stroke-width="0.9" stroke-linecap="butt"/>
<line x1="333.96" y1="238.50" x2="333.96" y2="244.50" stroke="#444" stroke-width="0.9" stroke-linecap="butt"/>
<line x1="332.16" y1="238.50" x2="335.76" y2="238.50" stroke="#444" stroke-width="0.9" stroke-linecap="butt"/>
<line x1="332.16" y1="244.50" x2="335.76" y2="244.50" stroke="#444" stroke-width="0.9" stroke-linecap="butt"/>
<line x1="339.72" y1="240.10" x2="339.72" y2="246.10" stroke="#444" stroke-width="0.9" stroke-linecap="butt"/>
<line x1="337.92" y1="240.10" x2="341.52" y2="240.10" stroke="#444" stroke-width="0.9" stroke-linecap="butt"/>
<line x1="337.92" y1="246.10" x2="341.52" y2="246.10" stroke="#444" stroke-width="0.9" stroke-linecap="butt"/>
<line x1="349.80" y1="242.30" x2="349.80" y2="249.30" stroke="#444" stroke-width="0.9" stroke-linecap="butt"/>
<line x1="348.00" y1="242.30" x2="351.60" y2="242.30" stroke="#444" stroke-width="0.9" stroke-linecap="butt"/>
<line x1="348.00" y1="249.30" x2="351.60" y2="249.30" stroke="#444" stroke-width="0.9" stroke-linecap="butt"/>
<line x1="359.88" y1="247.10" x2="359.88" y2="254.10" stroke="#444" stroke-width="0.9" stroke-linecap="butt"/>
<line x1="358.08" y1="247.10" x2="361.68" y2="247.10" stroke="#444" stroke-width="0.9" stroke-linecap="butt"/>
<line x1="358.08" y1="254.10" x2="361.68" y2="254.10" stroke="#444" stroke-width="0.9" stroke-linecap="butt"/>
<line x1="371.40" y1="240.50" x2="371.40" y2="251.10" stroke="#444" stroke-width="0.9" stroke-linecap="butt"/>
<line x1="369.60" y1="240.50" x2="373.20" y2="240.50" stroke="#444" stroke-width="0.9" stroke-linecap="butt"/>
<line x1="369.60" y1="251.10" x2="373.20" y2="251.10" stroke="#444" stroke-width="0.9" stroke-linecap="butt"/>
<line x1="387.24" y1="238.20" x2="387.24" y2="250.60" stroke="#444" stroke-width="0.9" stroke-linecap="butt"/>
<line x1="385.44" y1="238.20" x2="389.04" y2="238.20" stroke="#444" stroke-width="0.9" stroke-linecap="butt"/>
<line x1="385.44" y1="250.60" x2="389.04" y2="250.60" stroke="#444" stroke-width="0.9" stroke-linecap="butt"/>
<line x1="395.88" y1="236.70" x2="395.88" y2="248.30" stroke="#444" stroke-width="0.9" stroke-linecap="butt"/>
<line x1="394.08" y1="236.70" x2="397.68" y2="236.70" stroke="#444" stroke-width="0.9" stroke-linecap="butt"/>
<line x1="394.08" y1="248.30" x2="397.68" y2="248.30" stroke="#444" stroke-width="0.9" stroke-linecap="butt"/>
<line x1="407.40" y1="222.70" x2="407.40" y2="241.90" stroke="#444" stroke-width="0.9" stroke-linecap="butt"/>
<line x1="405.60" y1="222.70" x2="409.20" y2="222.70" stroke="#444" stroke-width="0.9" stroke-linecap="butt"/>
<line x1="405.60" y1="241.90" x2="409.20" y2="241.90" stroke="#444" stroke-width="0.9" stroke-linecap="butt"/>
<line x1="417.48" y1="238.00" x2="417.48" y2="250.80" stroke="#444" stroke-width="0.9" stroke-linecap="butt"/>
<line x1="415.68" y1="238.00" x2="419.28" y2="238.00" stroke="#444" stroke-width="0.9" stroke-linecap="butt"/>
<line x1="415.68" y1="250.80" x2="419.28" y2="250.80" stroke="#444" stroke-width="0.9" stroke-linecap="butt"/>
<line x1="427.56" y1="236.70" x2="427.56" y2="248.30" stroke="#444" stroke-width="0.9" stroke-linecap="butt"/>
<line x1="425.76" y1="236.70" x2="429.36" y2="236.70" stroke="#444" stroke-width="0.9" stroke-linecap="butt"/>
<line x1="425.76" y1="248.30" x2="429.36" y2="248.30" stroke="#444" stroke-width="0.9" stroke-linecap="butt"/>
<line x1="289.32" y1="192.80" x2="289.32" y2="195.80" stroke="#555" stroke-width="0.9" stroke-linecap="butt"/>
<line x1="287.52" y1="192.80" x2="291.12" y2="192.80" stroke="#555" stroke-width="0.9" stroke-linecap="butt"/>
<line x1="287.52" y1="195.80" x2="291.12" y2="195.80" stroke="#555" stroke-width="0.9" stroke-linecap="butt"/>
<line x1="293.64" y1="196.80" x2="293.64" y2="201.80" stroke="#555" stroke-width="0.9" stroke-linecap="butt"/>
<line x1="291.84" y1="196.80" x2="295.44" y2="196.80" stroke="#555" stroke-width="0.9" stroke-linecap="butt"/>
<line x1="291.84" y1="201.80" x2="295.44" y2="201.80" stroke="#555" stroke-width="0.9" stroke-linecap="butt"/>
<line x1="299.40" y1="213.00" x2="299.40" y2="217.00" stroke="#555" stroke-width="0.9" stroke-linecap="butt"/>
<line x1="297.60" y1="213.00" x2="301.20" y2="213.00" stroke="#555" stroke-width="0.9" stroke-linecap="butt"/>
<line x1="297.60" y1="217.00" x2="301.20" y2="217.00" stroke="#555" stroke-width="0.9" stroke-linecap="butt"/>
<line x1="303.72" y1="217.20" x2="303.72" y2="222.20" stroke="#555" stroke-width="0.9" stroke-linecap="butt"/>
<line x1="301.92" y1="217.20" x2="305.52" y2="217.20" stroke="#555" stroke-width="0.9" stroke-linecap="butt"/>
<line x1="301.92" y1="222.20" x2="305.52" y2="222.20" stroke="#555" stroke-width="0.9" stroke-linecap="butt"/>
<line x1="309.48" y1="199.80" x2="309.48" y2="205.40" stroke="#555" stroke-width="0.9" stroke-linecap="butt"/>
<line x1="307.68" y1="199.80" x2="311.28" y2="199.80" stroke="#555" stroke-width="0.9" stroke-linecap="butt"/>
<line x1="307.68" y1="205.40" x2="311.28" y2="205.40" stroke="#555" stroke-width="0.9" stroke-linecap="butt"/>
<line x1="313.80" y1="203.60" x2="313.80" y2="209.20" stroke="#555" stroke-width="0.9" stroke-linecap="butt"/>
<line x1="312.00" y1="203.60" x2="315.60" y2="203.60" stroke="#555" stroke-width="0.9" stroke-linecap="butt"/>
<line x1="312.00" y1="209.20" x2="315.60" y2="209.20" stroke="#555" stroke-width="0.9" stroke-linecap="butt"/>
<line x1="319.56" y1="215.60" x2="319.56" y2="221.60" stroke="#555" stroke-width="0.9" stroke-linecap="butt"/>
<line x1="317.76" y1="215.60" x2="321.36" y2="215.60" stroke="#555" stroke-width="0.9" stroke-linecap="butt"/>
<line x1="317.76" y1="221.60" x2="321.36" y2="221.60" stroke="#555" stroke-width="0.9" stroke-linecap="butt"/>
<line x1="323.88" y1="226.50" x2="323.88" y2="232.50" stroke="#555" stroke-width="0.9" stroke-linecap="butt"/>
<line x1="322.08" y1="226.50" x2="325.68" y2="226.50" stroke="#555" stroke-width="0.9" stroke-linecap="butt"/>
<line x1="322.08" y1="232.50" x2="325.68" y2="232.50" stroke="#555" stroke-width="0.9" stroke-linecap="butt"/>
<line x1="329.64" y1="233.20" x2="329.64" y2="239.20" stroke="#555" stroke-width="0.9" stroke-linecap="butt"/>
<line x1="327.84" y1="233.20" x2="331.44" y2="233.20" stroke="#555" stroke-width="0.9" stroke-linecap="butt"/>
<line x1="327.84" y1="239.20" x2="331.44" y2="239.20" stroke="#555" stroke-width="0.9" stroke-linecap="butt"/>
<line x1="333.96" y1="238.00" x2="333.96" y2="244.00" stroke="#555" stroke-width="0.9" stroke-linecap="butt"/>
<line x1="332.16" y1="238.00" x2="335.76" y2="238.00" stroke="#555" stroke-width="0.9" stroke-linecap="butt"/>
<line x1="332.16" y1="244.00" x2="335.76" y2="244.00" stroke="#555" stroke-width="0.9" stroke-linecap="butt"/>
<line x1="339.72" y1="239.00" x2="339.72" y2="246.00" stroke="#555" stroke-width="0.9" stroke-linecap="butt"/>
<line x1="337.92" y1="239.00" x2="341.52" y2="239.00" stroke="#555" stroke-width="0.9" stroke-linecap="butt"/>
<line x1="337.92" y1="246.00" x2="341.52" y2="246.00" stroke="#555" stroke-width="0.9" stroke-linecap="butt"/>
<line x1="349.80" y1="235.00" x2="349.80" y2="248.00" stroke="#555" stroke-width="0.9" stroke-linecap="butt"/>
<line x1="348.00" y1="235.00" x2="351.60" y2="235.00" stroke="#555" stroke-width="0.9" stroke-linecap="butt"/>
<line x1="348.00" y1="248.00" x2="351.60" y2="248.00" stroke="#555" stroke-width="0.9" stroke-linecap="butt"/>
<line x1="359.88" y1="235.60" x2="359.88" y2="248.60" stroke="#555" stroke-width="0.9" stroke-linecap="butt"/>
<line x1="358.08" y1="235.60" x2="361.68" y2="235.60" stroke="#555" stroke-width="0.9" stroke-linecap="butt"/>
<line x1="358.08" y1="248.60" x2="361.68" y2="248.60" stroke="#555" stroke-width="0.9" stroke-linecap="butt"/>
<line x1="371.40" y1="227.80" x2="371.40" y2="243.80" stroke="#555" stroke-width="0.9" stroke-linecap="butt"/>
<line x1="369.60" y1="227.80" x2="373.20" y2="227.80" stroke="#555" stroke-width="0.9" stroke-linecap="butt"/>
<line x1="369.60" y1="243.80" x2="373.20" y2="243.80" stroke="#555" stroke-width="0.9" stroke-linecap="butt"/>
<line x1="387.24" y1="231.50" x2="387.24" y2="244.70" stroke="#555" stroke-width="0.9" stroke-linecap="butt"/>
<line x1="385.44" y1="231.50" x2="389.04" y2="231.50" stroke="#555" stroke-width="0.9" stroke-linecap="butt"/>
<line x1="385.44" y1="244.70" x2="389.04" y2="244.70" stroke="#555" stroke-width="0.9" stroke-linecap="butt"/>
<line x1="395.88" y1="227.70" x2="395.88" y2="236.10" stroke="#555" stroke-width="0.9" stroke-linecap="butt"/>
<line x1="394.08" y1="227.70" x2="397.68" y2="227.70" stroke="#555" stroke-width="0.9" stroke-linecap="butt"/>
<line x1="394.08" y1="236.10" x2="397.68" y2="236.10" stroke="#555" stroke-width="0.9" stroke-linecap="butt"/>
<line x1="407.40" y1="234.20" x2="407.40" y2="244.20" stroke="#555" stroke-width="0.9" stroke-linecap="butt"/>
<line x1="405.60" y1="234.20" x2="409.20" y2="234.20" stroke="#555" stroke-width="0.9" stroke-linecap="butt"/>
<line x1="405.60" y1="244.20" x2="409.20" y2="244.20" stroke="#555" stroke-width="0.9" stroke-linecap="butt"/>
<line x1="417.48" y1="231.50" x2="417.48" y2="244.70" stroke="#555" stroke-width="0.9" stroke-linecap="butt"/>
<line x1="415.68" y1="231.50" x2="419.28" y2="231.50" stroke="#555" stroke-width="0.9" stroke-linecap="butt"/>
<line x1="415.68" y1="244.70" x2="419.28" y2="244.70" stroke="#555" stroke-width="0.9" stroke-linecap="butt"/>
<line x1="427.56" y1="227.70" x2="427.56" y2="235.30" stroke="#555" stroke-width="0.9" stroke-linecap="butt"/>
<line x1="425.76" y1="227.70" x2="429.36" y2="227.70" stroke="#555" stroke-width="0.9" stroke-linecap="butt"/>
<line x1="425.76" y1="235.30" x2="429.36" y2="235.30" stroke="#555" stroke-width="0.9" stroke-linecap="butt"/>
<rect x="287.52" y="178.20" width="3.6" height="3.6" fill="#1a1a1a"/>
<rect x="291.84" y="184.40" width="3.6" height="3.6" fill="#1a1a1a"/>
<rect x="297.60" y="195.40" width="3.6" height="3.6" fill="#1a1a1a"/>
<rect x="301.92" y="187.40" width="3.6" height="3.6" fill="#1a1a1a"/>
<rect x="307.68" y="180.50" width="3.6" height="3.6" fill="#1a1a1a"/>
<rect x="312.00" y="183.60" width="3.6" height="3.6" fill="#1a1a1a"/>
<rect x="317.76" y="185.10" width="3.6" height="3.6" fill="#1a1a1a"/>
<rect x="322.08" y="179.70" width="3.6" height="3.6" fill="#1a1a1a"/>
<rect x="327.84" y="184.00" width="3.6" height="3.6" fill="#1a1a1a"/>
<rect x="332.16" y="184.40" width="3.6" height="3.6" fill="#1a1a1a"/>
<rect x="337.92" y="184.00" width="3.6" height="3.6" fill="#1a1a1a"/>
<rect x="348.00" y="185.60" width="3.6" height="3.6" fill="#1a1a1a"/>
<rect x="358.08" y="182.50" width="3.6" height="3.6" fill="#1a1a1a"/>
<rect x="369.60" y="184.70" width="3.6" height="3.6" fill="#1a1a1a"/>
<rect x="385.44" y="186.70" width="3.6" height="3.6" fill="#1a1a1a"/>
<rect x="394.08" y="185.10" width="3.6" height="3.6" fill="#1a1a1a"/>
<rect x="405.60" y="185.10" width="3.6" height="3.6" fill="#1a1a1a"/>
<rect x="415.68" y="186.70" width="3.6" height="3.6" fill="#1a1a1a"/>
<rect x="425.76" y="185.40" width="3.6" height="3.6" fill="#1a1a1a"/>
<circle cx="289.32" cy="194.30" r="2.0" fill="#3a3a3a"/>
<circle cx="293.64" cy="199.60" r="2.0" fill="#3a3a3a"/>
<circle cx="299.40" cy="216.70" r="2.0" fill="#3a3a3a"/>
<circle cx="303.72" cy="223.30" r="2.0" fill="#3a3a3a"/>
<circle cx="309.48" cy="209.00" r="2.0" fill="#3a3a3a"/>
<circle cx="313.80" cy="211.20" r="2.0" fill="#3a3a3a"/>
<circle cx="319.56" cy="224.30" r="2.0" fill="#3a3a3a"/>
<circle cx="323.88" cy="231.00" r="2.0" fill="#3a3a3a"/>
<circle cx="329.64" cy="238.00" r="2.0" fill="#3a3a3a"/>
<circle cx="333.96" cy="241.50" r="2.0" fill="#3a3a3a"/>
<circle cx="339.72" cy="243.10" r="2.0" fill="#3a3a3a"/>
<circle cx="349.80" cy="245.80" r="2.0" fill="#3a3a3a"/>
<circle cx="359.88" cy="250.60" r="2.0" fill="#3a3a3a"/>
<circle cx="371.40" cy="245.80" r="2.0" fill="#3a3a3a"/>
<circle cx="387.24" cy="244.40" r="2.0" fill="#3a3a3a"/>
<circle cx="395.88" cy="242.50" r="2.0" fill="#3a3a3a"/>
<circle cx="407.40" cy="232.30" r="2.0" fill="#3a3a3a"/>
<circle cx="417.48" cy="244.40" r="2.0" fill="#3a3a3a"/>
<circle cx="427.56" cy="242.50" r="2.0" fill="#3a3a3a"/>
<circle cx="289.32" cy="194.30" r="2.2" fill="rgba(200,200,200,0.6)" stroke="#555" stroke-width="1.0"/>
<circle cx="293.64" cy="199.30" r="2.2" fill="rgba(200,200,200,0.6)" stroke="#555" stroke-width="1.0"/>
<circle cx="299.40" cy="215.00" r="2.2" fill="rgba(200,200,200,0.6)" stroke="#555" stroke-width="1.0"/>
<circle cx="303.72" cy="219.70" r="2.2" fill="rgba(200,200,200,0.6)" stroke="#555" stroke-width="1.0"/>
<circle cx="309.48" cy="202.60" r="2.2" fill="rgba(200,200,200,0.6)" stroke="#555" stroke-width="1.0"/>
<circle cx="313.80" cy="206.40" r="2.2" fill="rgba(200,200,200,0.6)" stroke="#555" stroke-width="1.0"/>
<circle cx="319.56" cy="218.60" r="2.2" fill="rgba(200,200,200,0.6)" stroke="#555" stroke-width="1.0"/>
<circle cx="323.88" cy="229.50" r="2.2" fill="rgba(200,200,200,0.6)" stroke="#555" stroke-width="1.0"/>
<circle cx="329.64" cy="236.20" r="2.2" fill="rgba(200,200,200,0.6)" stroke="#555" stroke-width="1.0"/>
<circle cx="333.96" cy="241.00" r="2.2" fill="rgba(200,200,200,0.6)" stroke="#555" stroke-width="1.0"/>
<circle cx="339.72" cy="242.50" r="2.2" fill="rgba(200,200,200,0.6)" stroke="#555" stroke-width="1.0"/>
<circle cx="349.80" cy="241.50" r="2.2" fill="rgba(200,200,200,0.6)" stroke="#555" stroke-width="1.0"/>
<circle cx="359.88" cy="242.10" r="2.2" fill="rgba(200,200,200,0.6)" stroke="#555" stroke-width="1.0"/>
<circle cx="371.40" cy="235.80" r="2.2" fill="rgba(200,200,200,0.6)" stroke="#555" stroke-width="1.0"/>
<circle cx="387.24" cy="238.10" r="2.2" fill="rgba(200,200,200,0.6)" stroke="#555" stroke-width="1.0"/>
<circle cx="395.88" cy="231.90" r="2.2" fill="rgba(200,200,200,0.6)" stroke="#555" stroke-width="1.0"/>
<circle cx="407.40" cy="239.20" r="2.2" fill="rgba(200,200,200,0.6)" stroke="#555" stroke-width="1.0"/>
<circle cx="417.48" cy="238.10" r="2.2" fill="rgba(200,200,200,0.6)" stroke="#555" stroke-width="1.0"/>
<circle cx="427.56" cy="231.50" r="2.2" fill="rgba(200,200,200,0.6)" stroke="#555" stroke-width="1.0"/>
<line x1="445.90" y1="172.50" x2="458.00" y2="172.50" stroke="#222" stroke-width="1.1" stroke-linecap="butt"/>
<rect x="450.20" y="170.70" width="3.6" height="3.6" fill="#111"/>
<text x="463.70" y="175.40" font-size="8.2" text-anchor="start" font-weight="normal" fill="#1a1a1a" stroke="#1a1a1a" stroke-width="0.18">BM Only</text>
<line x1="445.90" y1="184.20" x2="458.00" y2="184.20" stroke="#222" stroke-width="1.1" stroke-linecap="butt"/>
<circle cx="452.00" cy="184.20" r="1.9" fill="#333"/>
<text x="463.70" y="187.10" font-size="8.2" text-anchor="start" font-weight="normal" fill="#1a1a1a" stroke="#1a1a1a" stroke-width="0.18">WT T-cells</text>
<line x1="445.90" y1="196.70" x2="448.60" y2="196.70" stroke="#555" stroke-width="1.0" stroke-linecap="butt"/>
<line x1="455.30" y1="196.70" x2="458.00" y2="196.70" stroke="#555" stroke-width="1.0" stroke-linecap="butt"/>
<line x1="449.50" y1="196.70" x2="454.50" y2="196.70" stroke="#777" stroke-width="0.8" stroke-linecap="butt"/>
<circle cx="452.00" cy="196.70" r="2.15" fill="none" stroke="#444" stroke-width="1.0"/>
<text x="463.70" y="199.60" font-size="8.2" text-anchor="start" font-weight="normal" fill="#1a1a1a" stroke="#1a1a1a" stroke-width="0.18">B7-H3<tspan font-size="6.0" dy="-3" letter-spacing="0.45">-/-</tspan><tspan x="496.2" dy="3">T-cells</tspan></text>
<text x="0.60" y="330.60" font-size="10.9" text-anchor="start" font-weight="bold" fill="#000" stroke="#1a1a1a" stroke-width="0.18">C</text>
<line x1="33.70" y1="332.20" x2="33.70" y2="433.00" stroke="#111" stroke-width="1.5" stroke-linecap="butt"/>
<line x1="30.10" y1="336.90" x2="33.70" y2="336.90" stroke="#111" stroke-width="1.5" stroke-linecap="butt"/>
<text x="29.40" y="339.80" font-size="8.2" text-anchor="end" font-weight="normal" fill="#1a1a1a" letter-spacing="-0.45" stroke="#1a1a1a" stroke-width="0.18">100</text>
<line x1="30.10" y1="360.93" x2="33.70" y2="360.93" stroke="#111" stroke-width="1.5" stroke-linecap="butt"/>
<text x="29.40" y="363.82" font-size="8.2" text-anchor="end" font-weight="normal" fill="#1a1a1a" letter-spacing="-0.45" stroke="#1a1a1a" stroke-width="0.18">75</text>
<line x1="30.10" y1="384.95" x2="33.70" y2="384.95" stroke="#111" stroke-width="1.5" stroke-linecap="butt"/>
<text x="29.40" y="387.85" font-size="8.2" text-anchor="end" font-weight="normal" fill="#1a1a1a" letter-spacing="-0.45" stroke="#1a1a1a" stroke-width="0.18">50</text>
<line x1="30.10" y1="408.98" x2="33.70" y2="408.98" stroke="#111" stroke-width="1.5" stroke-linecap="butt"/>
<text x="29.40" y="411.88" font-size="8.2" text-anchor="end" font-weight="normal" fill="#1a1a1a" letter-spacing="-0.45" stroke="#1a1a1a" stroke-width="0.18">25</text>
<line x1="30.10" y1="433.00" x2="33.70" y2="433.00" stroke="#111" stroke-width="1.5" stroke-linecap="butt"/>
<text x="29.40" y="435.90" font-size="8.2" text-anchor="end" font-weight="normal" fill="#1a1a1a" letter-spacing="-0.45" stroke="#1a1a1a" stroke-width="0.18">0</text>
<line x1="33.70" y1="433.00" x2="185.30" y2="433.00" stroke="#111" stroke-width="1.5" stroke-linecap="butt"/>
<line x1="33.60" y1="433.00" x2="33.60" y2="436.40" stroke="#111" stroke-width="1.5" stroke-linecap="butt"/>
<text x="33.60" y="444.00" font-size="8.2" text-anchor="middle" font-weight="normal" fill="#1a1a1a" letter-spacing="-0.35" stroke="#1a1a1a" stroke-width="0.18">0</text>
<line x1="71.40" y1="433.00" x2="71.40" y2="436.40" stroke="#111" stroke-width="1.5" stroke-linecap="butt"/>
<text x="71.40" y="444.00" font-size="8.2" text-anchor="middle" font-weight="normal" fill="#1a1a1a" letter-spacing="-0.35" stroke="#1a1a1a" stroke-width="0.18">20</text>
<line x1="109.20" y1="433.00" x2="109.20" y2="436.40" stroke="#111" stroke-width="1.5" stroke-linecap="butt"/>
<text x="109.20" y="444.00" font-size="8.2" text-anchor="middle" font-weight="normal" fill="#1a1a1a" letter-spacing="-0.35" stroke="#1a1a1a" stroke-width="0.18">40</text>
<line x1="147.00" y1="433.00" x2="147.00" y2="436.40" stroke="#111" stroke-width="1.5" stroke-linecap="butt"/>
<text x="147.00" y="444.00" font-size="8.2" text-anchor="middle" font-weight="normal" fill="#1a1a1a" letter-spacing="-0.35" stroke="#1a1a1a" stroke-width="0.18">60</text>
<line x1="184.80" y1="433.00" x2="184.80" y2="436.40" stroke="#111" stroke-width="1.5" stroke-linecap="butt"/>
<text x="184.80" y="444.00" font-size="8.2" text-anchor="middle" font-weight="normal" fill="#1a1a1a" letter-spacing="-0.35" stroke="#1a1a1a" stroke-width="0.18">80</text>
<text x="7.30" y="381.80" font-size="8.2" text-anchor="middle" font-weight="normal" fill="#1a1a1a" transform="rotate(-90 7.30 381.80)" stroke="#1a1a1a" stroke-width="0.18">Percent survival</text>
<text x="109.40" y="457.00" font-size="8.3" text-anchor="middle" font-weight="normal" fill="#1a1a1a" stroke="#1a1a1a" stroke-width="0.18">Days After Transplant</text>
<line x1="33.70" y1="336.90" x2="160.40" y2="336.90" stroke="#666" stroke-width="1.5" stroke-linecap="butt"/>
<path d="M33.70,336.90 L75.40,336.90 L75.40,347.50 L95.90,347.50 L95.90,368.80 L99.30,368.80 L99.30,379.50 L116.80,379.50 L116.80,390.20 L118.80,390.20 L118.80,411.50 L133.80,411.50 L133.80,422.10 L160.40,422.10 L160.40,432.90" fill="none" stroke="#6a6a6a" stroke-width="1.0" stroke-dasharray="2.6,1.8"/>
<path d="M33.70,336.90 L75.40,336.90 L75.40,348.80 L86.40,348.80 L86.40,360.80 L100.30,360.80 L100.30,372.80 L101.70,372.80 L101.70,384.80 L120.40,384.80 L120.40,396.80 L122.40,396.80 L122.40,408.80 L143.90,408.80 L143.90,420.80 L160.40,420.80" fill="none" stroke="#666" stroke-width="1.2"/>
<path d="M33.70,336.90 L50.80,336.90 L50.80,356.10 L61.70,356.10 L61.70,375.30 L81.00,375.30 L81.00,394.60 L94.60,394.60 L94.60,413.90 L97.50,413.90 L97.50,432.90" fill="none" stroke="#333" stroke-width="1.2"/>
<circle cx="50.80" cy="356.10" r="2.0" fill="#222"/>
<circle cx="61.70" cy="375.30" r="2.0" fill="#222"/>
<circle cx="81.00" cy="394.60" r="2.0" fill="#222"/>
<circle cx="94.60" cy="413.90" r="2.0" fill="#222"/>
<circle cx="97.50" cy="432.90" r="2.0" fill="#222"/>
<polygon points="75.40,346.53 77.50,350.19 73.30,350.19" fill="#555"/>
<polygon points="86.40,358.53 88.50,362.19 84.30,362.19" fill="#555"/>
<polygon points="100.30,370.53 102.40,374.19 98.20,374.19" fill="#555"/>
<polygon points="101.70,382.53 103.80,386.19 99.60,386.19" fill="#555"/>
<polygon points="120.40,394.53 122.50,398.19 118.30,398.19" fill="#555"/>
<polygon points="122.40,406.53 124.50,410.19 120.30,410.19" fill="#555"/>
<polygon points="143.90,418.53 146.00,422.19 141.80,422.19" fill="#555"/>
<polygon points="160.40,418.53 162.50,422.19 158.30,422.19" fill="#555"/>
<polygon points="75.40,345.02 77.70,349.02 73.10,349.02" fill="none" stroke="#666" stroke-width="0.8"/>
<polygon points="95.90,366.32 98.20,370.32 93.60,370.32" fill="none" stroke="#666" stroke-width="0.8"/>
<polygon points="99.30,377.02 101.60,381.02 97.00,381.02" fill="none" stroke="#666" stroke-width="0.8"/>
<polygon points="116.80,387.72 119.10,391.72 114.50,391.72" fill="none" stroke="#666" stroke-width="0.8"/>
<polygon points="118.80,409.02 121.10,413.02 116.50,413.02" fill="none" stroke="#666" stroke-width="0.8"/>
<polygon points="133.80,419.62 136.10,423.62 131.50,423.62" fill="none" stroke="#666" stroke-width="0.8"/>
<polygon points="160.40,430.42 162.70,434.42 158.10,434.42" fill="none" stroke="#666" stroke-width="0.8"/>
<rect x="158.60" y="335.10" width="3.6" height="3.6" fill="#111"/>
<line x1="171.40" y1="337.80" x2="183.30" y2="337.80" stroke="#222" stroke-width="1.1" stroke-linecap="butt"/>
<rect x="175.40" y="335.90" width="3.8" height="3.8" fill="#111"/>
<text x="188.70" y="340.70" font-size="8.2" text-anchor="start" font-weight="normal" fill="#1a1a1a" stroke="#1a1a1a" stroke-width="0.18">BM Only</text>
<line x1="171.40" y1="349.30" x2="183.30" y2="349.30" stroke="#222" stroke-width="1.1" stroke-linecap="butt"/>
<circle cx="177.30" cy="349.30" r="2.0" fill="#222"/>
<text x="188.70" y="352.20" font-size="8.2" text-anchor="start" font-weight="normal" fill="#1a1a1a" stroke="#1a1a1a" stroke-width="0.18">WT No Tregs</text>
<line x1="171.40" y1="361.20" x2="183.30" y2="361.20" stroke="#555" stroke-width="1.1" stroke-linecap="butt"/>
<polygon points="177.30,359.15 179.20,362.46 175.40,362.46" fill="#444"/>
<text x="188.70" y="364.10" font-size="8.2" text-anchor="start" font-weight="normal" fill="#1a1a1a" stroke="#1a1a1a" stroke-width="0.18">WT + WT Tregs</text>
<line x1="171.40" y1="373.40" x2="174.10" y2="373.40" stroke="#555" stroke-width="1.0" stroke-linecap="butt"/>
<line x1="180.60" y1="373.40" x2="183.30" y2="373.40" stroke="#555" stroke-width="1.0" stroke-linecap="butt"/>
<polygon points="177.30,371.13 179.40,374.79 175.20,374.79" fill="none" stroke="#444" stroke-width="0.9"/>
<text x="188.70" y="376.30" font-size="8.2" text-anchor="start" font-weight="normal" fill="#1a1a1a" stroke="#1a1a1a" stroke-width="0.18">WT + B7H3<tspan font-size="5.6" dy="-3" letter-spacing="0.35">-/-</tspan><tspan x="239.4" dy="3">Tre</tspan></text>
<text x="259.50" y="330.90" font-size="10.9" text-anchor="start" font-weight="bold" fill="#000" stroke="#1a1a1a" stroke-width="0.18">D</text>
<line x1="296.70" y1="335.10" x2="296.70" y2="436.20" stroke="#111" stroke-width="1.5" stroke-linecap="butt"/>
<line x1="293.10" y1="339.90" x2="296.70" y2="339.90" stroke="#111" stroke-width="1.5" stroke-linecap="butt"/>
<text x="292.40" y="342.80" font-size="8.2" text-anchor="end" font-weight="normal" fill="#1a1a1a" letter-spacing="-0.45" stroke="#1a1a1a" stroke-width="0.18">100</text>
<line x1="293.10" y1="363.98" x2="296.70" y2="363.98" stroke="#111" stroke-width="1.5" stroke-linecap="butt"/>
<text x="292.40" y="366.88" font-size="8.2" text-anchor="end" font-weight="normal" fill="#1a1a1a" letter-spacing="-0.45" stroke="#1a1a1a" stroke-width="0.18">75</text>
<line x1="293.10" y1="388.05" x2="296.70" y2="388.05" stroke="#111" stroke-width="1.5" stroke-linecap="butt"/>
<text x="292.40" y="390.95" font-size="8.2" text-anchor="end" font-weight="normal" fill="#1a1a1a" letter-spacing="-0.45" stroke="#1a1a1a" stroke-width="0.18">50</text>
<line x1="293.10" y1="412.12" x2="296.70" y2="412.12" stroke="#111" stroke-width="1.5" stroke-linecap="butt"/>
<text x="292.40" y="415.02" font-size="8.2" text-anchor="end" font-weight="normal" fill="#1a1a1a" letter-spacing="-0.45" stroke="#1a1a1a" stroke-width="0.18">25</text>
<line x1="293.10" y1="436.20" x2="296.70" y2="436.20" stroke="#111" stroke-width="1.5" stroke-linecap="butt"/>
<text x="292.40" y="439.10" font-size="8.2" text-anchor="end" font-weight="normal" fill="#1a1a1a" letter-spacing="-0.45" stroke="#1a1a1a" stroke-width="0.18">0</text>
<line x1="296.70" y1="436.20" x2="448.00" y2="436.20" stroke="#111" stroke-width="1.5" stroke-linecap="butt"/>
<line x1="296.60" y1="436.20" x2="296.60" y2="439.60" stroke="#111" stroke-width="1.5" stroke-linecap="butt"/>
<text x="296.60" y="447.20" font-size="8.2" text-anchor="middle" font-weight="normal" fill="#1a1a1a" letter-spacing="-0.35" stroke="#1a1a1a" stroke-width="0.18">0</text>
<line x1="332.85" y1="436.20" x2="332.85" y2="439.60" stroke="#111" stroke-width="1.5" stroke-linecap="butt"/>
<text x="332.85" y="447.20" font-size="8.2" text-anchor="middle" font-weight="normal" fill="#1a1a1a" letter-spacing="-0.35" stroke="#1a1a1a" stroke-width="0.18">25</text>
<line x1="369.10" y1="436.20" x2="369.10" y2="439.60" stroke="#111" stroke-width="1.5" stroke-linecap="butt"/>
<text x="369.10" y="447.20" font-size="8.2" text-anchor="middle" font-weight="normal" fill="#1a1a1a" letter-spacing="-0.35" stroke="#1a1a1a" stroke-width="0.18">50</text>
<line x1="405.35" y1="436.20" x2="405.35" y2="439.60" stroke="#111" stroke-width="1.5" stroke-linecap="butt"/>
<text x="405.35" y="447.20" font-size="8.2" text-anchor="middle" font-weight="normal" fill="#1a1a1a" letter-spacing="-0.35" stroke="#1a1a1a" stroke-width="0.18">75</text>
<line x1="441.60" y1="436.20" x2="441.60" y2="439.60" stroke="#111" stroke-width="1.5" stroke-linecap="butt"/>
<text x="441.60" y="447.20" font-size="8.2" text-anchor="middle" font-weight="normal" fill="#1a1a1a" letter-spacing="-0.35" stroke="#1a1a1a" stroke-width="0.18">100</text>
<text x="270.90" y="385.50" font-size="8.2" text-anchor="middle" font-weight="normal" fill="#1a1a1a" transform="rotate(-90 270.90 385.50)" stroke="#1a1a1a" stroke-width="0.18">Percent survival</text>
<text x="372.60" y="460.20" font-size="8.3" text-anchor="middle" font-weight="normal" fill="#1a1a1a" stroke="#1a1a1a" stroke-width="0.18">Days After Transplant</text>
<line x1="296.70" y1="339.90" x2="429.30" y2="339.90" stroke="#5a5a5a" stroke-width="1.5" stroke-linecap="butt"/>
<path d="M296.70,339.90 L301.00,339.90 L301.00,351.90 L306.70,351.90 L306.70,376.00 L325.80,376.00 L325.80,388.00 L326.60,388.00 L326.60,400.10 L337.20,400.10 L337.20,412.10 L357.20,412.10 L357.20,424.20 L403.60,424.20 L403.60,436.20" fill="none" stroke="#6a6a6a" stroke-width="1.0" stroke-dasharray="2.6,1.8"/>
<path d="M296.70,339.90 L340.30,339.90 L340.30,353.70 L346.80,353.70 L346.80,367.40 L370.20,367.40 L370.20,381.20 L372.60,381.20 L372.60,394.90 L396.20,394.90 L396.20,408.70 L407.70,408.70 L407.70,422.40 L429.30,422.40" fill="none" stroke="#555" stroke-width="1.2"/>
<polygon points="340.30,351.43 342.40,355.09 338.20,355.09" fill="#444"/>
<polygon points="346.80,365.13 348.90,368.79 344.70,368.79" fill="#444"/>
<polygon points="370.20,378.93 372.30,382.59 368.10,382.59" fill="#444"/>
<polygon points="372.60,392.63 374.70,396.29 370.50,396.29" fill="#444"/>
<polygon points="396.20,406.43 398.30,410.09 394.10,410.09" fill="#444"/>
<polygon points="407.70,420.13 409.80,423.79 405.60,423.79" fill="#444"/>
<polygon points="429.30,420.13 431.40,423.79 427.20,423.79" fill="#444"/>
<polygon points="301.00,349.42 303.30,353.42 298.70,353.42" fill="none" stroke="#555" stroke-width="0.8"/>
<polygon points="306.70,373.52 309.00,377.52 304.40,377.52" fill="none" stroke="#555" stroke-width="0.8"/>
<polygon points="325.80,385.52 328.10,389.52 323.50,389.52" fill="none" stroke="#555" stroke-width="0.8"/>
<polygon points="326.60,397.62 328.90,401.62 324.30,401.62" fill="none" stroke="#555" stroke-width="0.8"/>
<polygon points="337.20,409.62 339.50,413.62 334.90,413.62" fill="none" stroke="#555" stroke-width="0.8"/>
<polygon points="357.20,421.72 359.50,425.72 354.90,425.72" fill="none" stroke="#555" stroke-width="0.8"/>
<polygon points="403.60,433.72 405.90,437.72 401.30,437.72" fill="none" stroke="#555" stroke-width="0.8"/>
<rect x="427.50" y="338.10" width="3.6" height="3.6" fill="#111"/>
<line x1="425.20" y1="353.00" x2="437.00" y2="353.00" stroke="#222" stroke-width="1.1" stroke-linecap="butt"/>
<rect x="429.20" y="351.10" width="3.8" height="3.8" fill="#111"/>
<text x="443.00" y="355.90" font-size="8.0" text-anchor="start" font-weight="normal" fill="#1a1a1a" stroke="#1a1a1a" stroke-width="0.18">BM Only</text>
<line x1="425.20" y1="362.20" x2="437.00" y2="362.20" stroke="#555" stroke-width="1.1" stroke-linecap="butt"/>
<polygon points="431.10,360.15 433.00,363.46 429.20,363.46" fill="#444"/>
<text x="443.00" y="365.10" font-size="8.0" text-anchor="start" font-weight="normal" fill="#1a1a1a" stroke="#1a1a1a" stroke-width="0.18">WT CD25<tspan font-size="4" dy="-3" fill="#777" stroke="none">+</tspan></text>
<line x1="425.20" y1="372.90" x2="427.90" y2="372.90" stroke="#555" stroke-width="1.0" stroke-linecap="butt"/>
<line x1="434.30" y1="372.90" x2="437.00" y2="372.90" stroke="#555" stroke-width="1.0" stroke-linecap="butt"/>
<polygon points="431.10,370.63 433.20,374.29 429.00,374.29" fill="none" stroke="#444" stroke-width="0.9"/>
<text x="443.00" y="375.80" font-size="8.0" text-anchor="start" font-weight="normal" fill="#1a1a1a" stroke="#1a1a1a" stroke-width="0.18">B7H3<tspan font-size="5.8" dy="-3" letter-spacing="0.45">-/-</tspan><tspan x="474.0" dy="3">CD25</tspan><tspan font-size="4" dy="-3" fill="#777" stroke="none">+</tspan></text>
</svg>
</body></html>
